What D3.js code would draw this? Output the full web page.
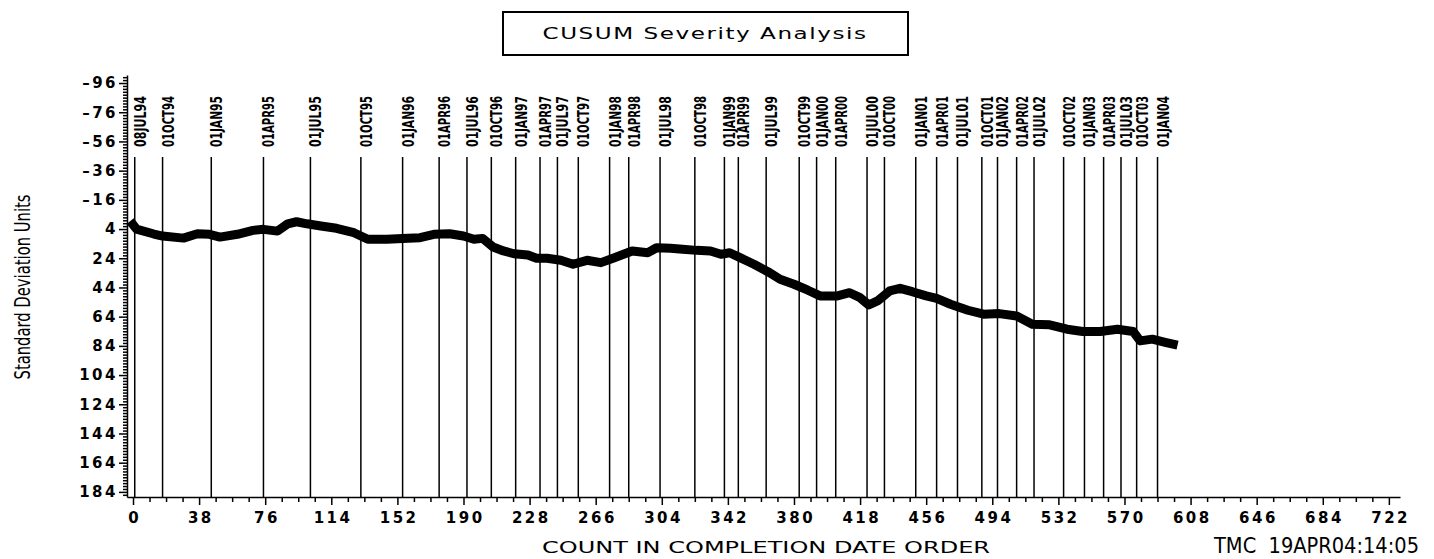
<!DOCTYPE html>
<html>
<head>
<meta charset="utf-8">
<script src="https://cdn.jsdelivr.net/npm/d3@7"></script>
<style>
  body { margin: 0; background: #fff; }
  #chart { width: 1434px; height: 559px; }
</style>
</head>
<body>
<div id="chart"></div>
<script>
// CUSUM series (count in completion order -> std dev units)
const counts = [0, 2, 12, 17, 29, 37, 44, 50, 60, 69, 75, 83, 89, 94, 100, 108, 117, 127, 135, 146,
  155, 165, 173, 182, 190, 196, 201, 207, 213, 219, 227, 232, 238, 246, 253, 261, 269, 276, 282, 287,
  296, 301, 309, 316, 324, 332, 338, 343, 349, 357, 365, 372, 380, 388, 395, 405, 412, 418, 423, 428,
  435, 441, 448, 456, 462, 470, 480, 489, 498, 508, 517, 527, 537, 546, 556, 566, 575, 579, 586, 594, 598];
const values = [1, 4, 7.4, 8.8, 10.2, 7.2, 7.6, 9.5, 7.6, 4.9, 4.2, 5.4, 0.4, -1.0, 0.4, 1.9, 3.5, 6.5, 11.0, 11.0,
  10.4, 9.9, 7.6, 7.2, 8.8, 11.0, 10.4, 16.3, 19.0, 20.9, 21.8, 24.0, 24.0, 25.4, 28.1, 25.4, 27.0, 24.0, 21.3, 19.0,
  20.2, 16.8, 17.2, 17.9, 18.6, 19.0, 21.3, 20.2, 23.6, 28.1, 33.2, 38.4, 41.8, 45.9, 49.8, 49.8, 47.6, 51.0, 56.0, 53.2,
  46.4, 44.6, 46.9, 49.8, 51.5, 55.5, 59.6, 62.3, 61.9, 63.5, 69.2, 69.6, 72.6, 74.2, 74.2, 72.6, 74.2, 80.6, 79.4, 81.7, 82.8];

// reference dates and the count where each one falls
const dateLabels = ['08JUL94', '01OCT94', '01JAN95', '01APR95', '01JUL95', '01OCT95', '01JAN96', '01APR96',
  '01JUL96', '01OCT96', '01JAN97', '01APR97', '01JUL97', '01OCT97', '01JAN98', '01APR98', '01JUL98', '01OCT98',
  '01JAN99', '01APR99', '01JUL99', '01OCT99', '01JAN00', '01APR00', '01JUL00', '01OCT00', '01JAN01', '01APR01',
  '01JUL01', '01OCT01', '01JAN02', '01APR02', '01JUL02', '01OCT02', '01JAN03', '01APR03', '01JUL03', '01OCT03', '01JAN04'];
const dateCounts = [1, 17, 45, 75, 102, 131, 155, 176, 192, 206, 220, 234, 244, 256, 274, 285, 303, 323,
  340, 348, 364, 383, 393, 404, 422, 432, 450, 462, 474, 488, 497, 508, 518, 535, 547, 558, 568, 577, 589];

const yTicks = d3.range(-96, 185, 20);
const xTicks = d3.range(0, 723, 38);

const width = 1434;
const height = 559;
const wideFont = '"DejaVu Sans", sans-serif';
const narrowFont = '"Liberation Sans Narrow", "DejaVu Sans Condensed", sans-serif';

const svg = d3.select('#chart')
  .append('svg')
  .attr('width', width)
  .attr('height', height);

svg.append('rect').attr('width', width).attr('height', height).attr('fill', '#fff');

// axis geometry
const axisY = 497;
const axisX = 127;
const x = d3.scaleLinear().domain([-3.45, 728.4]).range([axisX, 1400]);
const y = d3.scaleLinear().domain([-101.5, 187.5]).range([75, axisY]);

// title box
svg.append('rect')
  .attr('x', 503).attr('y', 12)
  .attr('width', 405).attr('height', 43)
  .attr('fill', 'none')
  .attr('stroke', '#000')
  .attr('stroke-width', 2);

svg.append('text')
  .attr('x', 705).attr('y', 39)
  .attr('text-anchor', 'middle')
  .attr('textLength', 325)
  .attr('lengthAdjust', 'spacingAndGlyphs')
  .style('font-family', wideFont)
  .style('font-size', '15px')
  .style('letter-spacing', '1px')
  .text('CUSUM Severity Analysis');

// date reference lines
svg.append('g')
  .selectAll('line')
  .data(dateCounts)
  .join('line')
  .attr('x1', d => x(d)).attr('x2', d => x(d))
  .attr('y1', 157).attr('y2', axisY)
  .attr('stroke', '#000')
  .attr('stroke-width', 1.5);

svg.append('g')
  .selectAll('text')
  .data(dateLabels)
  .join('text')
  .attr('transform', (d, i) => `translate(${x(dateCounts[i]) + 11},147) rotate(-90)`)
  .attr('textLength', 51)
  .attr('lengthAdjust', 'spacingAndGlyphs')
  .style('font-family', narrowFont)
  .style('font-weight', 'bold')
  .style('font-size', '15px')
  .text(d => d);

// tick label format: long dash for negatives, as in the original
const tickFmt = d => (d < 0 ? '\u2013' + Math.abs(d) : String(d));

// y axis: major + minor ticks
const yMinor = d3.range(-100, 188, 2).filter(v => !yTicks.includes(v));
svg.append('g')
  .attr('transform', `translate(${axisX},0)`)
  .call(d3.axisLeft(y).tickValues(yMinor).tickSize(4).tickFormat('').tickSizeOuter(0))
  .call(g => g.selectAll('line,path').attr('stroke', '#000').attr('stroke-width', 1.5));

svg.append('g')
  .attr('transform', `translate(${axisX},0)`)
  .call(d3.axisLeft(y).tickValues(yTicks).tickFormat(tickFmt).tickSize(8).tickPadding(1).tickSizeOuter(0))
  .call(g => g.select('.domain').remove())
  .call(g => g.selectAll('line').attr('stroke', '#000').attr('stroke-width', 1.5))
  .call(g => g.selectAll('text')
    .attr('fill', '#000')
    .style('font-family', wideFont)
    .style('font-weight', 'bold')
    .style('font-size', '15px')
    .style('letter-spacing', '2.5px'));

// x axis: major + minor ticks
const xMinor = d3.range(0, 729, 9.5).filter(v => v % 38 !== 0);
svg.append('g')
  .attr('transform', `translate(0,${axisY})`)
  .call(d3.axisBottom(x).tickValues(xMinor).tickSize(5).tickFormat('').tickSizeOuter(0))
  .call(g => g.selectAll('line,path').attr('stroke', '#000').attr('stroke-width', 1.5));

svg.append('g')
  .attr('transform', `translate(0,${axisY})`)
  .call(d3.axisBottom(x).tickValues(xTicks).tickFormat(tickFmt).tickSize(8).tickPadding(7).tickSizeOuter(0))
  .call(g => g.select('.domain').remove())
  .call(g => g.selectAll('line').attr('stroke', '#000').attr('stroke-width', 1.5))
  .call(g => g.selectAll('text')
    .attr('fill', '#000')
    .attr('dx', '1.25px')
    .style('font-family', wideFont)
    .style('font-weight', 'bold')
    .style('font-size', '15px')
    .style('letter-spacing', '2.5px'));

// axis titles
svg.append('text')
  .attr('transform', 'translate(30,287) rotate(-90)')
  .attr('text-anchor', 'middle')
  .attr('textLength', 185)
  .attr('lengthAdjust', 'spacingAndGlyphs')
  .style('font-family', narrowFont)
  .style('font-size', '22px')
  .text('Standard Deviation Units');

svg.append('text')
  .attr('x', 766).attr('y', 553)
  .attr('text-anchor', 'middle')
  .attr('textLength', 448)
  .attr('lengthAdjust', 'spacingAndGlyphs')
  .style('font-family', wideFont)
  .style('font-size', '15px')
  .text('COUNT IN COMPLETION DATE ORDER');

svg.append('text')
  .attr('x', 1419).attr('y', 553)
  .attr('text-anchor', 'end')
  .attr('textLength', 205)
  .attr('lengthAdjust', 'spacingAndGlyphs')
  .style('font-family', narrowFont)
  .style('font-size', '21px')
  .style('white-space', 'pre')
  .text('TMC  19APR04:14:05');

// CUSUM band
const series = counts.map((c, i) => ({ c, v: values[i] }));
const line = d3.line().x(d => x(d.c)).y(d => y(d.v));

svg.append('path')
  .datum(series)
  .attr('d', line)
  .attr('fill', 'none')
  .attr('stroke', '#000')
  .attr('stroke-width', 9)
  .attr('stroke-linejoin', 'round')
  .attr('stroke-linecap', 'square');
</script>
</body>
</html>
